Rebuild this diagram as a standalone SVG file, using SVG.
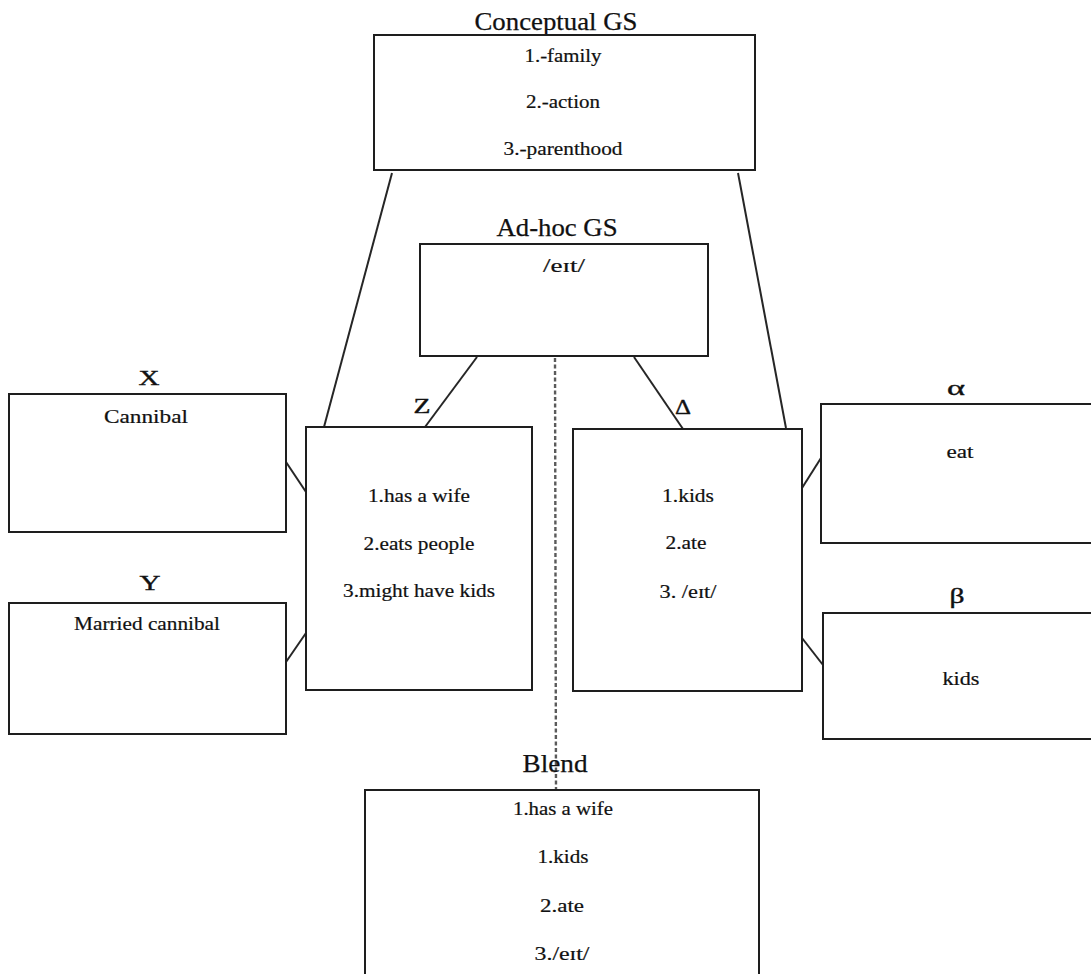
<svg xmlns="http://www.w3.org/2000/svg" width="1091" height="974" viewBox="0 0 1091 974">
  <style>
    .box { fill: #ffffff; stroke: #1e1e1e; stroke-width: 2; }
    .link { stroke: #262626; stroke-width: 2; fill: none; }
    .dash { stroke: #5a5a5a; stroke-width: 2.4; stroke-dasharray: 4 2.5; fill: none; }
    text { font-family: "Liberation Serif", "Times New Roman", Tinos, serif; fill: #111111; text-anchor: middle; stroke: #111111; stroke-width: 0.2; }
    .title { font-size: 26px; stroke-width: 0.25; }
    .label { font-size: 22px; stroke-width: 0.4; }
    .item { font-size: 18px; }
  </style>
  <rect width="1091" height="974" fill="#ffffff"/>

  <!-- connectors -->
  <g id="connectors">
    <line class="link" x1="392" y1="173" x2="324" y2="427"/>
    <line class="link" x1="738" y1="173" x2="786" y2="428"/>
    <line class="link" x1="477" y1="357" x2="425" y2="427"/>
    <line class="link" x1="634" y1="357" x2="683" y2="429"/>
    <line class="link" x1="286" y1="462" x2="306" y2="492"/>
    <line class="link" x1="286" y1="662" x2="306" y2="633"/>
    <line class="link" x1="802" y1="488" x2="821" y2="458"/>
    <line class="link" x1="802" y1="638" x2="823" y2="665"/>
    <line class="dash" x1="555" y1="358" x2="556" y2="789"/>
  </g>

  <!-- Conceptual generic space -->
  <g id="conceptual-gs">
    <text class="title" x="556" y="30" textLength="163" lengthAdjust="spacingAndGlyphs">Conceptual GS</text>
    <rect class="box" x="374" y="35" width="381" height="135"/>
    <text class="item" x="563" y="62" textLength="77" lengthAdjust="spacingAndGlyphs">1.-family</text>
    <text class="item" x="563" y="108" textLength="74" lengthAdjust="spacingAndGlyphs">2.-action</text>
    <text class="item" x="563" y="155" textLength="119" lengthAdjust="spacingAndGlyphs">3.-parenthood</text>
  </g>

  <!-- Ad-hoc generic space -->
  <g id="adhoc-gs">
    <text class="title" x="557" y="236" textLength="121" lengthAdjust="spacingAndGlyphs">Ad-hoc GS</text>
    <rect class="box" x="420" y="244" width="288" height="112"/>
    <text class="item" x="564" y="272" textLength="42" lengthAdjust="spacingAndGlyphs">/eɪt/</text>
  </g>

  <!-- Input X -->
  <g id="input-x">
    <text class="label" x="149" y="385" textLength="21" lengthAdjust="spacingAndGlyphs">X</text>
    <rect class="box" x="9" y="394" width="277" height="138"/>
    <text class="item" x="146" y="423" textLength="84" lengthAdjust="spacingAndGlyphs">Cannibal</text>
  </g>

  <!-- Input Y -->
  <g id="input-y">
    <text class="label" x="150" y="590" textLength="21" lengthAdjust="spacingAndGlyphs">Y</text>
    <rect class="box" x="9" y="603" width="277" height="131"/>
    <text class="item" x="147" y="630" textLength="146" lengthAdjust="spacingAndGlyphs">Married cannibal</text>
  </g>

  <!-- Input space Z -->
  <g id="space-z">
    <text class="label" x="422" y="413" textLength="17" lengthAdjust="spacingAndGlyphs">Z</text>
    <rect class="box" x="306" y="427" width="226" height="263"/>
    <text class="item" x="419" y="502" textLength="102" lengthAdjust="spacingAndGlyphs">1.has a wife</text>
    <text class="item" x="419" y="550" textLength="111" lengthAdjust="spacingAndGlyphs">2.eats people</text>
    <text class="item" x="419" y="597" textLength="152" lengthAdjust="spacingAndGlyphs">3.might have kids</text>
  </g>

  <!-- Input space Delta -->
  <g id="space-delta">
    <text class="label" x="683" y="414" textLength="16" lengthAdjust="spacingAndGlyphs">Δ</text>
    <rect class="box" x="573" y="429" width="229" height="262"/>
    <text class="item" x="688" y="502" textLength="52" lengthAdjust="spacingAndGlyphs">1.kids</text>
    <text class="item" x="686" y="549" textLength="41" lengthAdjust="spacingAndGlyphs">2.ate</text>
    <text class="item" x="688" y="598" textLength="57" lengthAdjust="spacingAndGlyphs">3. /eɪt/</text>
  </g>

  <!-- Input alpha -->
  <g id="input-alpha">
    <text class="label" x="956" y="395" textLength="18" lengthAdjust="spacingAndGlyphs">α</text>
    <rect class="box" x="821" y="404" width="280" height="139"/>
    <text class="item" x="960" y="458" textLength="27" lengthAdjust="spacingAndGlyphs">eat</text>
  </g>

  <!-- Input beta -->
  <g id="input-beta">
    <text class="label" x="957" y="603" textLength="15" lengthAdjust="spacingAndGlyphs">β</text>
    <rect class="box" x="823" y="613" width="278" height="126"/>
    <text class="item" x="961" y="685" textLength="37" lengthAdjust="spacingAndGlyphs">kids</text>
  </g>

  <!-- Blended space -->
  <g id="blend">
    <text class="title" x="555" y="772" textLength="65" lengthAdjust="spacingAndGlyphs">Blend</text>
    <rect class="box" x="365" y="790" width="394" height="200"/>
    <text class="item" x="563" y="815" textLength="100" lengthAdjust="spacingAndGlyphs">1.has a wife</text>
    <text class="item" x="563" y="863" textLength="51" lengthAdjust="spacingAndGlyphs">1.kids</text>
    <text class="item" x="562" y="912" textLength="44" lengthAdjust="spacingAndGlyphs">2.ate</text>
    <text class="item" x="562" y="960" textLength="55" lengthAdjust="spacingAndGlyphs">3./eɪt/</text>
  </g>
</svg>
